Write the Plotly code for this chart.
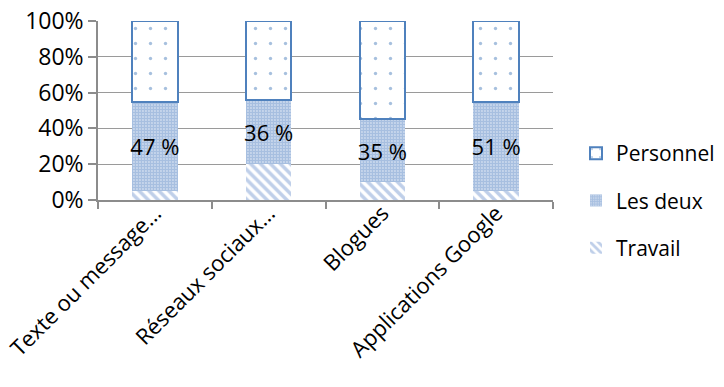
import plotly.graph_objects as go

categories = ["Texte ou message…", "Réseaux sociaux…", "Blogues", "Applications Google"]
travail = [0.05, 0.20, 0.10, 0.05]
les_deux = [0.50, 0.36, 0.35, 0.50]
personnel = [0.45, 0.44, 0.55, 0.45]
les_deux_labels = ["47 %", "36 %", "35 %", "51 %"]

BLUE = "#4F81BD"
FONT = "Open Sans"
FS = 22

fig = go.Figure()
fig.add_trace(go.Bar(
    name="Travail", x=categories, y=travail, legendgroup="t", legendrank=3,
    marker=dict(color="white", line=dict(width=0),
                pattern=dict(shape="\\", fgcolor="#7f9fd4", bgcolor="white",
                             size=7, solidity=0.5)),
    hoverinfo="skip",
))
fig.add_trace(go.Bar(
    name="Les deux", x=categories, y=les_deux, legendgroup="d", legendrank=2,
    text=les_deux_labels, textposition="inside", insidetextanchor="middle",
    textangle=0, constraintext="none",
    textfont=dict(family=FONT, size=FS, color="black"),
    marker=dict(color="white", line=dict(width=0),
                pattern=dict(shape=".", fgcolor="#4f7fc2", bgcolor="white",
                             size=3, solidity=0.8)),
    hoverinfo="skip",
))
fig.add_trace(go.Bar(
    name="Personnel", x=categories, y=personnel, legendgroup="p", legendrank=1,
    marker=dict(color="white", line=dict(width=2, color=BLUE),
                pattern=dict(shape=".", fgcolor=BLUE, bgcolor="white",
                             size=15, solidity=0.04)),
    hoverinfo="skip",
))

fig.update_layout(
    width=724, height=387,
    margin=dict(l=98, r=171, t=21, b=187, autoexpand=False),
    barmode="stack", bargap=0.6,
    paper_bgcolor="white", plot_bgcolor="white",
    font=dict(family=FONT, size=FS, color="black"),
    showlegend=True,
    legend=dict(xref="container", yref="container",
                x=576 / 724, y=1 - 133 / 387, xanchor="left", yanchor="top",
                traceorder="grouped", tracegroupgap=17,
                font=dict(family=FONT, size=21, color="black"),
                itemwidth=30, bgcolor="rgba(0,0,0,0)"),
)
fig.update_xaxes(
    tickangle=-45, showline=True, linecolor="#8c8c8c", linewidth=1.5,
    ticks="outside", tickson="boundaries", ticklen=7, tickcolor="#8c8c8c",
    tickwidth=1.5, showgrid=False, automargin=False, ticklabelstandoff=-10,
    tickfont=dict(family=FONT, size=22, color="black"),
)
fig.update_yaxes(
    range=[0, 1], dtick=0.2, tickformat=".0%",
    showline=True, linecolor="#8c8c8c", linewidth=1.5,
    ticks="outside", ticklen=8, tickcolor="#8c8c8c", tickwidth=1.5,
    showgrid=True, gridcolor="#9a9a9a", gridwidth=1.3,
    zeroline=False, automargin=False,
    tickfont=dict(family=FONT, size=23, color="black"),
)

fig.write_html("out.html")
